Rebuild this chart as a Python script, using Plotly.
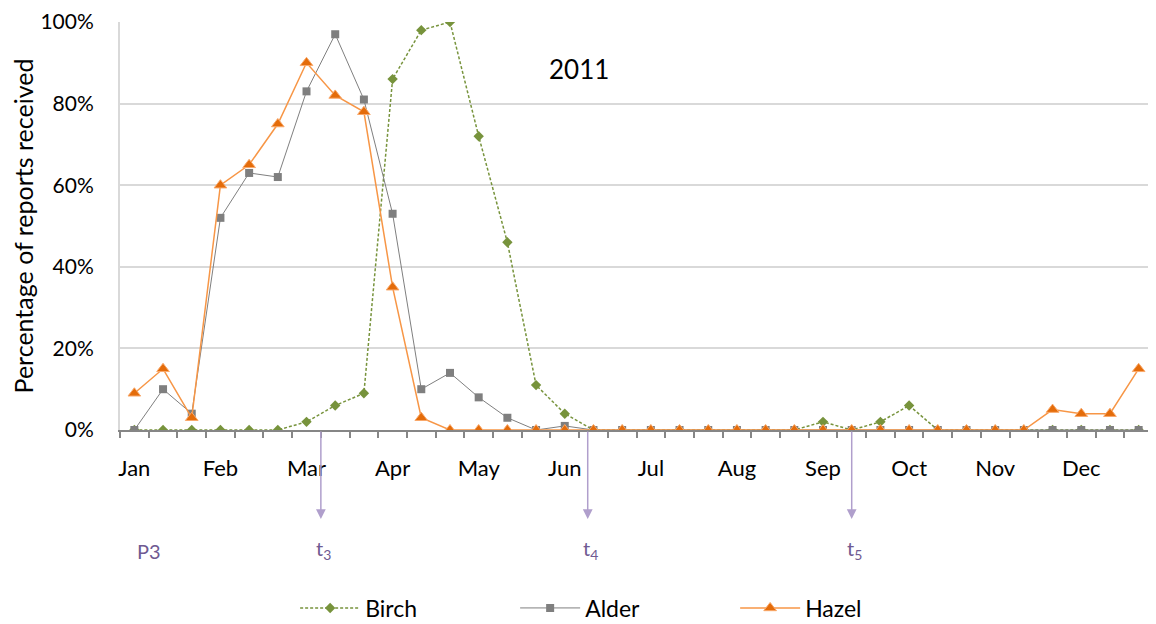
import plotly.graph_objects as go

months = ["Jan", "Feb", "Mar", "Apr", "May", "Jun", "Jul", "Aug", "Sep", "Oct", "Nov", "Dec"]
n_points = 36  # three readings per month

birch = [0, 0, 0, 0, 0, 0, 2, 6, 9, 86, 98, 100, 72, 46, 11, 4, 0, 0,
         0, 0, 0, 0, 0, 0, 2, 0, 2, 6, 0, 0, 0, 0, 0, 0, 0, 0]
alder = [0, 10, 4, 52, 63, 62, 83, 97, 81, 53, 10, 14, 8, 3, 0, 1, 0, 0,
         0, 0, 0, 0, 0, 0, 0, 0, 0, 0, 0, 0, 0, 0, 0, 0, 0, 0]
hazel = [9, 15, 3, 60, 65, 75, 90, 82, 78, 35, 3, 0, 0, 0, 0, 0, 0, 0,
         0, 0, 0, 0, 0, 0, 0, 0, 0, 0, 0, 0, 0, 0, 5, 4, 4, 15]

marker_labels = ["t<sub>3</sub>", "t<sub>4</sub>", "t<sub>5</sub>"]
marker_pos = [6.5, 15.8, 25.0]

x = list(range(n_points))
FONT = "Lato"
PURPLE = "#6F5A92"

fig = go.Figure()
fig.add_trace(go.Scatter(
    x=x, y=birch, name="Birch", mode="lines+markers",
    line=dict(color="#77933C", width=1.5, dash="3px,2px"),
    marker=dict(symbol="diamond", size=8, color="#77933C"),
))
fig.add_trace(go.Scatter(
    x=x, y=alder, name="Alder", mode="lines+markers",
    line=dict(color="#7F7F7F", width=1),
    marker=dict(symbol="square", size=8, color="#7F7F7F"),
))
fig.add_trace(go.Scatter(
    x=x, y=hazel, name="Hazel", mode="lines+markers",
    line=dict(color="#F79646", width=1.5),
    marker=dict(symbol="triangle-up", size=11, color="#E46C0A",
                line=dict(color="#F9A86A", width=1)),
))

annotations = []
annotations.append(dict(text="2011", x=15.5, y=88.5, xref="x", yref="y",
                        showarrow=False, font=dict(family=FONT, size=26, color="#000000")))
for lab, pos in zip(marker_labels, marker_pos):
    annotations.append(dict(text="", x=pos, y=-0.218, xref="x", yref="paper",
                            showarrow=True, ax=0, ay=-89, axref="pixel", ayref="pixel",
                            arrowhead=2, arrowsize=1.3, arrowwidth=1.5, arrowcolor="#B09FCC"))
    annotations.append(dict(text=lab, x=pos + 0.1, y=-0.33, xref="x", yref="paper",
                            showarrow=False, font=dict(family=FONT, size=20, color=PURPLE)))
annotations.append(dict(text="P3", x=0.5, y=-0.33, xref="x", yref="paper",
                        showarrow=False, font=dict(family=FONT, size=20, color=PURPLE)))

fig.update_layout(
    width=1148, height=616,
    margin=dict(l=112, r=3, t=14, b=194, autoexpand=False),
    paper_bgcolor="white", plot_bgcolor="white",
    font=dict(family=FONT, size=22, color="#000000"),
    showlegend=True,
    legend=dict(orientation="h", x=0.489, xanchor="center", xref="paper",
                y=0.026, yanchor="middle", yref="container",
                font=dict(family=FONT, size=23), entrywidth=145, itemwidth=60),
    annotations=annotations,
    xaxis=dict(
        range=[-0.5, n_points - 0.5],
        tickmode="array", tickvals=[3 * i for i in range(12)], ticktext=months,
        ticks="", showgrid=False, zeroline=False, ticklabelstandoff=18,
        showline=True, linecolor="#868686", linewidth=2,
        tickfont=dict(family=FONT, size=22),
        minor=dict(ticks="outside", tick0=-0.5, dtick=1, ticklen=6,
                   tickcolor="#868686", tickwidth=1.5, showgrid=False),
    ),
    yaxis=dict(
        range=[0, 100], tickvals=[0, 20, 40, 60, 80, 100],
        ticktext=["0%", "20%", "40%", "60%", "80%", "100%"],
        showgrid=True, gridcolor="#D9D9D9", gridwidth=2,
        zeroline=False, showline=True, linecolor="#D9D9D9", linewidth=2,
        ticks="", ticklabelstandoff=20, ticklabeloverflow="allow",
        tickfont=dict(family=FONT, size=21),
        title=dict(text="Percentage of reports received", font=dict(family=FONT, size=25), standoff=8),
    ),
)

fig.write_html("out.html")
